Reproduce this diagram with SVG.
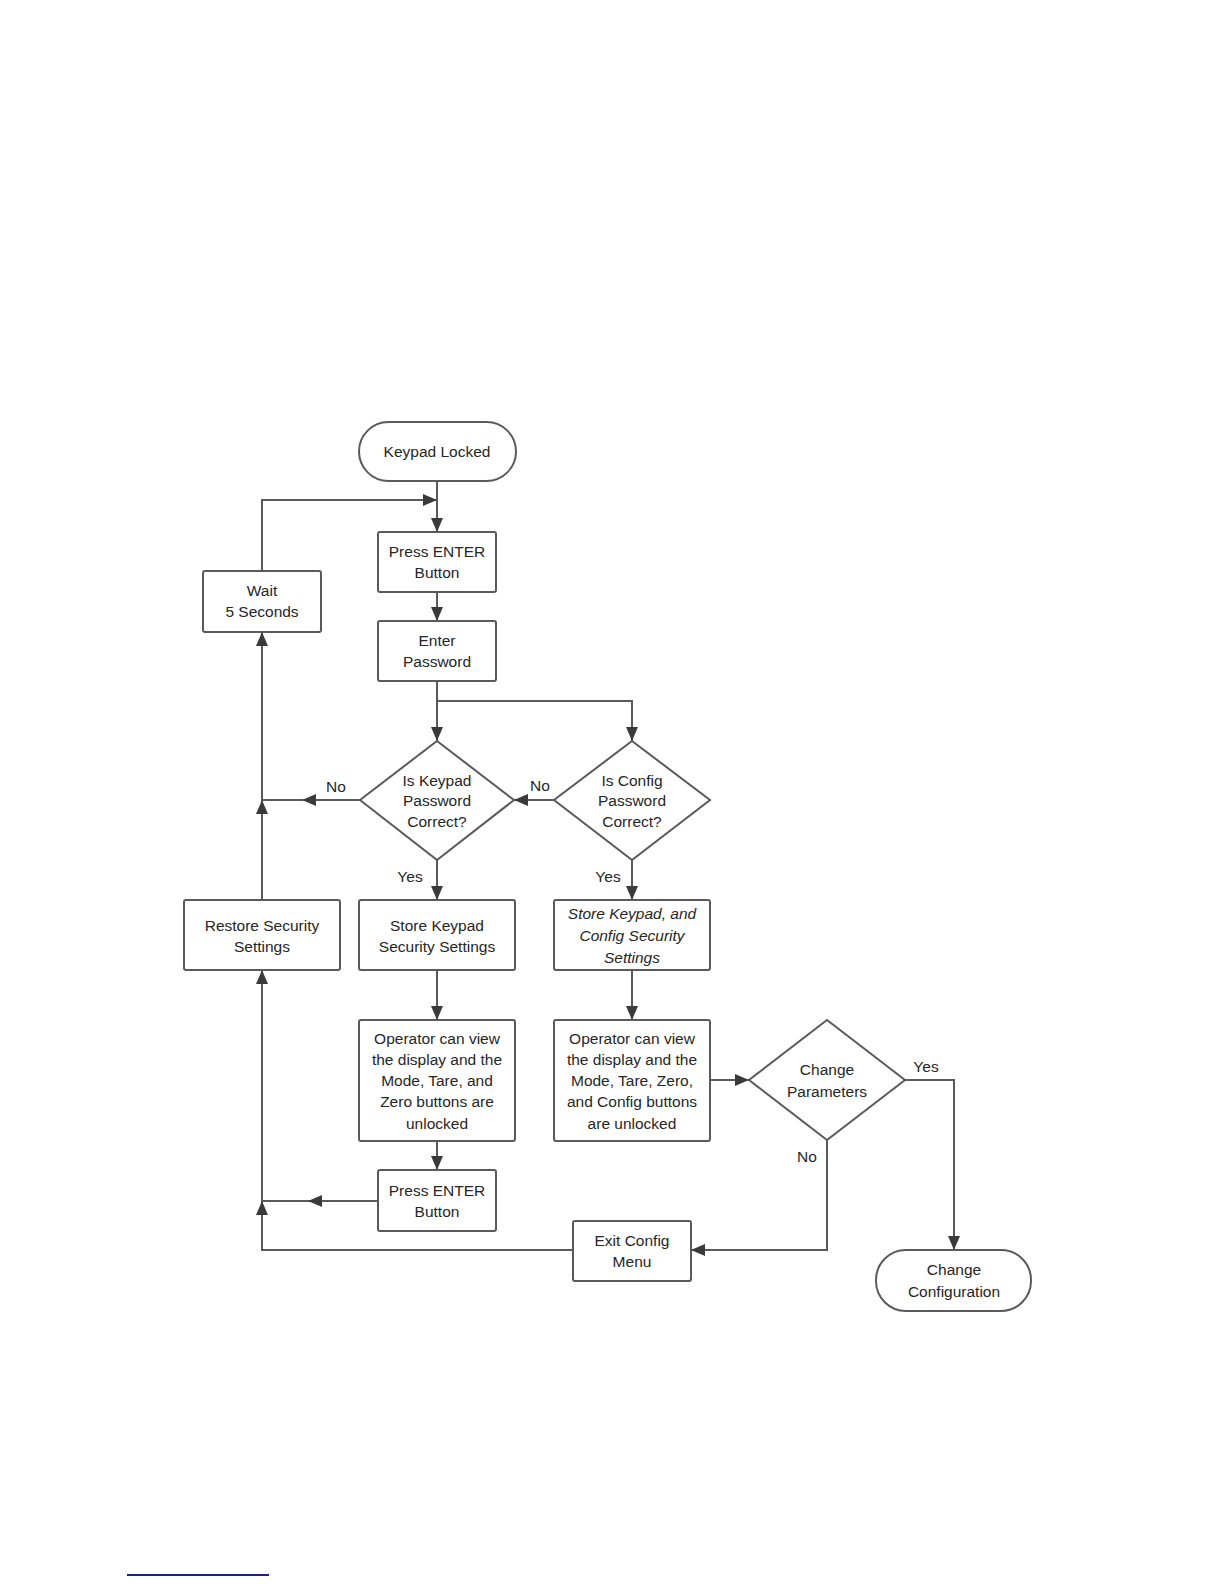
<svg xmlns="http://www.w3.org/2000/svg" width="1224" height="1584" viewBox="0 0 1224 1584">
<defs>
<marker id="ah" viewBox="0 0 14 12" refX="14" refY="6" markerWidth="14" markerHeight="12" markerUnits="userSpaceOnUse" orient="auto">
<path d="M0,0 L14,6 L0,12 z" fill="#3a3a3a"/>
</marker>
<style>
.shape{fill:#ffffff;stroke:#5a5a5a;stroke-width:2}
.t{font-family:"Liberation Sans",Arial,sans-serif;font-size:15.5px;fill:#262626;text-anchor:middle;dominant-baseline:central}
.it{font-style:italic}
.ln{fill:none;stroke:#5a5a5a;stroke-width:2}
.ar{fill:none;stroke:#5a5a5a;stroke-width:2;marker-end:url(#ah)}
.lbl{font-family:"Liberation Sans",Arial,sans-serif;font-size:15.5px;fill:#262626;text-anchor:middle;dominant-baseline:central}
</style>
</defs>
<rect width="1224" height="1584" fill="#ffffff"/>

<g id="connectors">
<line class="ar" x1="437" y1="481" x2="437" y2="532"/>
<path class="ar" d="M262,571 V500 H437"/>
<line class="ar" x1="437" y1="592" x2="437" y2="621"/>
<line class="ln" x1="437" y1="681" x2="437" y2="701"/>
<line class="ar" x1="437" y1="701" x2="437" y2="741"/>
<path class="ar" d="M437,701 H632 V741"/>
<line class="ar" x1="554" y1="800" x2="514" y2="800"/>
<line class="ar" x1="360" y1="800" x2="302" y2="800"/>
<line class="ln" x1="302" y1="800" x2="262" y2="800"/>
<line class="ar" x1="262" y1="800" x2="262" y2="632"/>
<line class="ar" x1="262" y1="900" x2="262" y2="800"/>
<line class="ar" x1="437" y1="860" x2="437" y2="900"/>
<line class="ar" x1="632" y1="860" x2="632" y2="900"/>
<line class="ar" x1="437" y1="970" x2="437" y2="1020"/>
<line class="ar" x1="632" y1="970" x2="632" y2="1020"/>
<line class="ar" x1="437" y1="1141" x2="437" y2="1170"/>
<line class="ar" x1="710" y1="1080" x2="749" y2="1080"/>
<path class="ar" d="M905,1080 H954 V1250"/>
<path class="ar" d="M827,1140 V1250 H691"/>
<line class="ar" x1="378" y1="1201" x2="308" y2="1201"/>
<line class="ln" x1="308" y1="1201" x2="262" y2="1201"/>
<path class="ln" d="M573,1250 H262 V1222"/>
<line class="ar" x1="262" y1="1222" x2="262" y2="1201"/>
<line class="ar" x1="262" y1="1201" x2="262" y2="970"/>
<text class="lbl" x="336" y="786">No</text>
<text class="lbl" x="540" y="785">No</text>
<text class="lbl" x="410" y="876">Yes</text>
<text class="lbl" x="608" y="876">Yes</text>
<text class="lbl" x="926" y="1066">Yes</text>
<text class="lbl" x="807" y="1156">No</text>
</g>

<g id="keypad-locked">
<rect class="shape" x="359" y="422" width="157" height="59" rx="29.5"/>
<text class="t" x="437" y="451">Keypad Locked</text>
</g>
<g id="press-enter-1">
<rect class="shape" x="378" y="532" width="118" height="60" rx="2"/>
<text class="t" x="437" y="551">Press ENTER</text>
<text class="t" x="437" y="572">Button</text>
</g>
<g id="enter-password">
<rect class="shape" x="378" y="621" width="118" height="60" rx="2"/>
<text class="t" x="437" y="640">Enter</text>
<text class="t" x="437" y="661">Password</text>
</g>
<g id="wait">
<rect class="shape" x="203" y="571" width="118" height="61" rx="2"/>
<text class="t" x="262" y="590">Wait</text>
<text class="t" x="262" y="611">5 Seconds</text>
</g>
<g id="keypad-correct">
<polygon class="shape" points="437,741 514,800 437,860 360,800"/>
<text class="t" x="437" y="780">Is Keypad</text>
<text class="t" x="437" y="800">Password</text>
<text class="t" x="437" y="821">Correct?</text>
</g>
<g id="config-correct">
<polygon class="shape" points="632,741 710,800 632,860 554,800"/>
<text class="t" x="632" y="780">Is Config</text>
<text class="t" x="632" y="800">Password</text>
<text class="t" x="632" y="821">Correct?</text>
</g>
<g id="restore">
<rect class="shape" x="184" y="900" width="156" height="70" rx="2"/>
<text class="t" x="262" y="925">Restore Security</text>
<text class="t" x="262" y="946">Settings</text>
</g>
<g id="store-keypad">
<rect class="shape" x="359" y="900" width="156" height="70" rx="2"/>
<text class="t" x="437" y="925">Store Keypad</text>
<text class="t" x="437" y="946">Security Settings</text>
</g>
<g id="store-config">
<rect class="shape" x="554" y="900" width="156" height="70" rx="2"/>
<text class="t it" x="632" y="913">Store Keypad, and</text>
<text class="t it" x="632" y="935">Config Security</text>
<text class="t it" x="632" y="957">Settings</text>
</g>
<g id="operator-1">
<rect class="shape" x="359" y="1020" width="156" height="121" rx="2"/>
<text class="t" x="437" y="1038">Operator can view</text>
<text class="t" x="437" y="1059">the display and the</text>
<text class="t" x="437" y="1080">Mode, Tare, and</text>
<text class="t" x="437" y="1101">Zero buttons are</text>
<text class="t" x="437" y="1123">unlocked</text>
</g>
<g id="operator-2">
<rect class="shape" x="554" y="1020" width="156" height="121" rx="2"/>
<text class="t" x="632" y="1038">Operator can view</text>
<text class="t" x="632" y="1059">the display and the</text>
<text class="t" x="632" y="1080">Mode, Tare, Zero,</text>
<text class="t" x="632" y="1101">and Config buttons</text>
<text class="t" x="632" y="1123">are unlocked</text>
</g>
<g id="change-parameters">
<polygon class="shape" points="827,1020 905,1080 827,1140 749,1080"/>
<text class="t" x="827" y="1069">Change</text>
<text class="t" x="827" y="1091">Parameters</text>
</g>
<g id="press-enter-2">
<rect class="shape" x="378" y="1170" width="118" height="61" rx="2"/>
<text class="t" x="437" y="1190">Press ENTER</text>
<text class="t" x="437" y="1211">Button</text>
</g>
<g id="exit-config">
<rect class="shape" x="573" y="1221" width="118" height="60" rx="2"/>
<text class="t" x="632" y="1240">Exit Config</text>
<text class="t" x="632" y="1261">Menu</text>
</g>
<g id="change-configuration">
<rect class="shape" x="876" y="1250" width="155" height="61" rx="30"/>
<text class="t" x="954" y="1269">Change</text>
<text class="t" x="954" y="1291">Configuration</text>
</g>
<line x1="127" y1="1575" x2="269" y2="1575" stroke="#1c1c9c" stroke-width="2"/>
</svg>
